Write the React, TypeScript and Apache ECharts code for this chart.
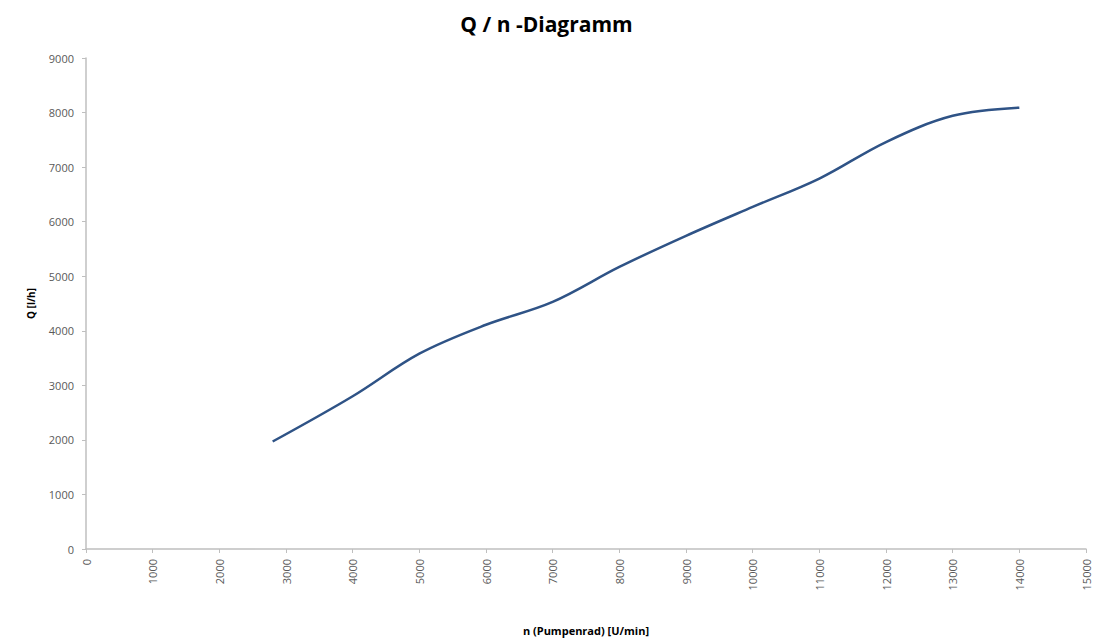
import React, { useEffect, useRef } from "react";
import * as echarts from "echarts";

const rpm = [2800, 4000, 5000, 6000, 7000, 8000, 9000, 10000, 11000, 12000, 13000, 14000];
const flow = [1970, 2800, 3580, 4110, 4530, 5170, 5740, 6270, 6790, 7460, 7940, 8090];

const titleText = "Q / n -Diagramm";
const xName = "n (Pumpenrad) [U/min]";
const yName = "Q [l/h]";

export default function App() {
  const ref = useRef<HTMLDivElement>(null);
  useEffect(() => {
    const chart = echarts.init(ref.current!, null, { renderer: "svg" });
    const font = "'Open Sans', 'Noto Sans', sans-serif";
    const plain = (v: number) => String(v);
    chart.setOption({
      animation: false,
      backgroundColor: "#ffffff",
      title: {
        text: titleText,
        left: "center",
        top: 8,
        textStyle: { fontFamily: font, fontSize: 21, fontWeight: "bold", color: "#000" },
      },
      grid: { left: 86, right: 7, top: 58, bottom: 90, containLabel: false },
      xAxis: {
        type: "value",
        min: 0,
        max: 15000,
        interval: 1000,
        name: xName,
        nameLocation: "middle",
        nameGap: 76,
        nameTextStyle: { fontFamily: font, fontSize: 11, fontWeight: "bold", color: "#000" },
        axisLine: { lineStyle: { color: "#bfbfbf", width: 1.5 } },
        axisTick: { show: true, length: 4, inside: false, lineStyle: { color: "#bfbfbf" } },
        splitLine: { show: false },
        axisLabel: { rotate: 90, margin: 10, fontFamily: font, fontSize: 11, color: "#595959", formatter: plain },
      },
      yAxis: {
        type: "value",
        min: 0,
        max: 9000,
        interval: 1000,
        name: yName,
        nameLocation: "middle",
        nameGap: 50,
        nameRotate: 90,
        nameTextStyle: { fontFamily: font, fontSize: 10, fontWeight: "bold", color: "#000" },
        axisLine: { show: true, lineStyle: { color: "#bfbfbf", width: 1.5 } },
        axisTick: { show: true, length: 4, lineStyle: { color: "#bfbfbf" } },
        splitLine: { show: false },
        axisLabel: { margin: 12, fontFamily: font, fontSize: 11, color: "#595959", formatter: plain },
      },
      series: [
        {
          type: "line",
          data: rpm.map((x, i) => [x, flow[i]]),
          smooth: 0.35,
          showSymbol: false,
          lineStyle: { color: "#2f5386", width: 2.5 },
        },
      ],
    });
    return () => chart.dispose();
  }, []);
  return (
    <div
      ref={ref}
      style={{ position: "fixed", left: 0, top: 0, width: 1093, height: 641, background: "#fff" }}
    />
  );
}
